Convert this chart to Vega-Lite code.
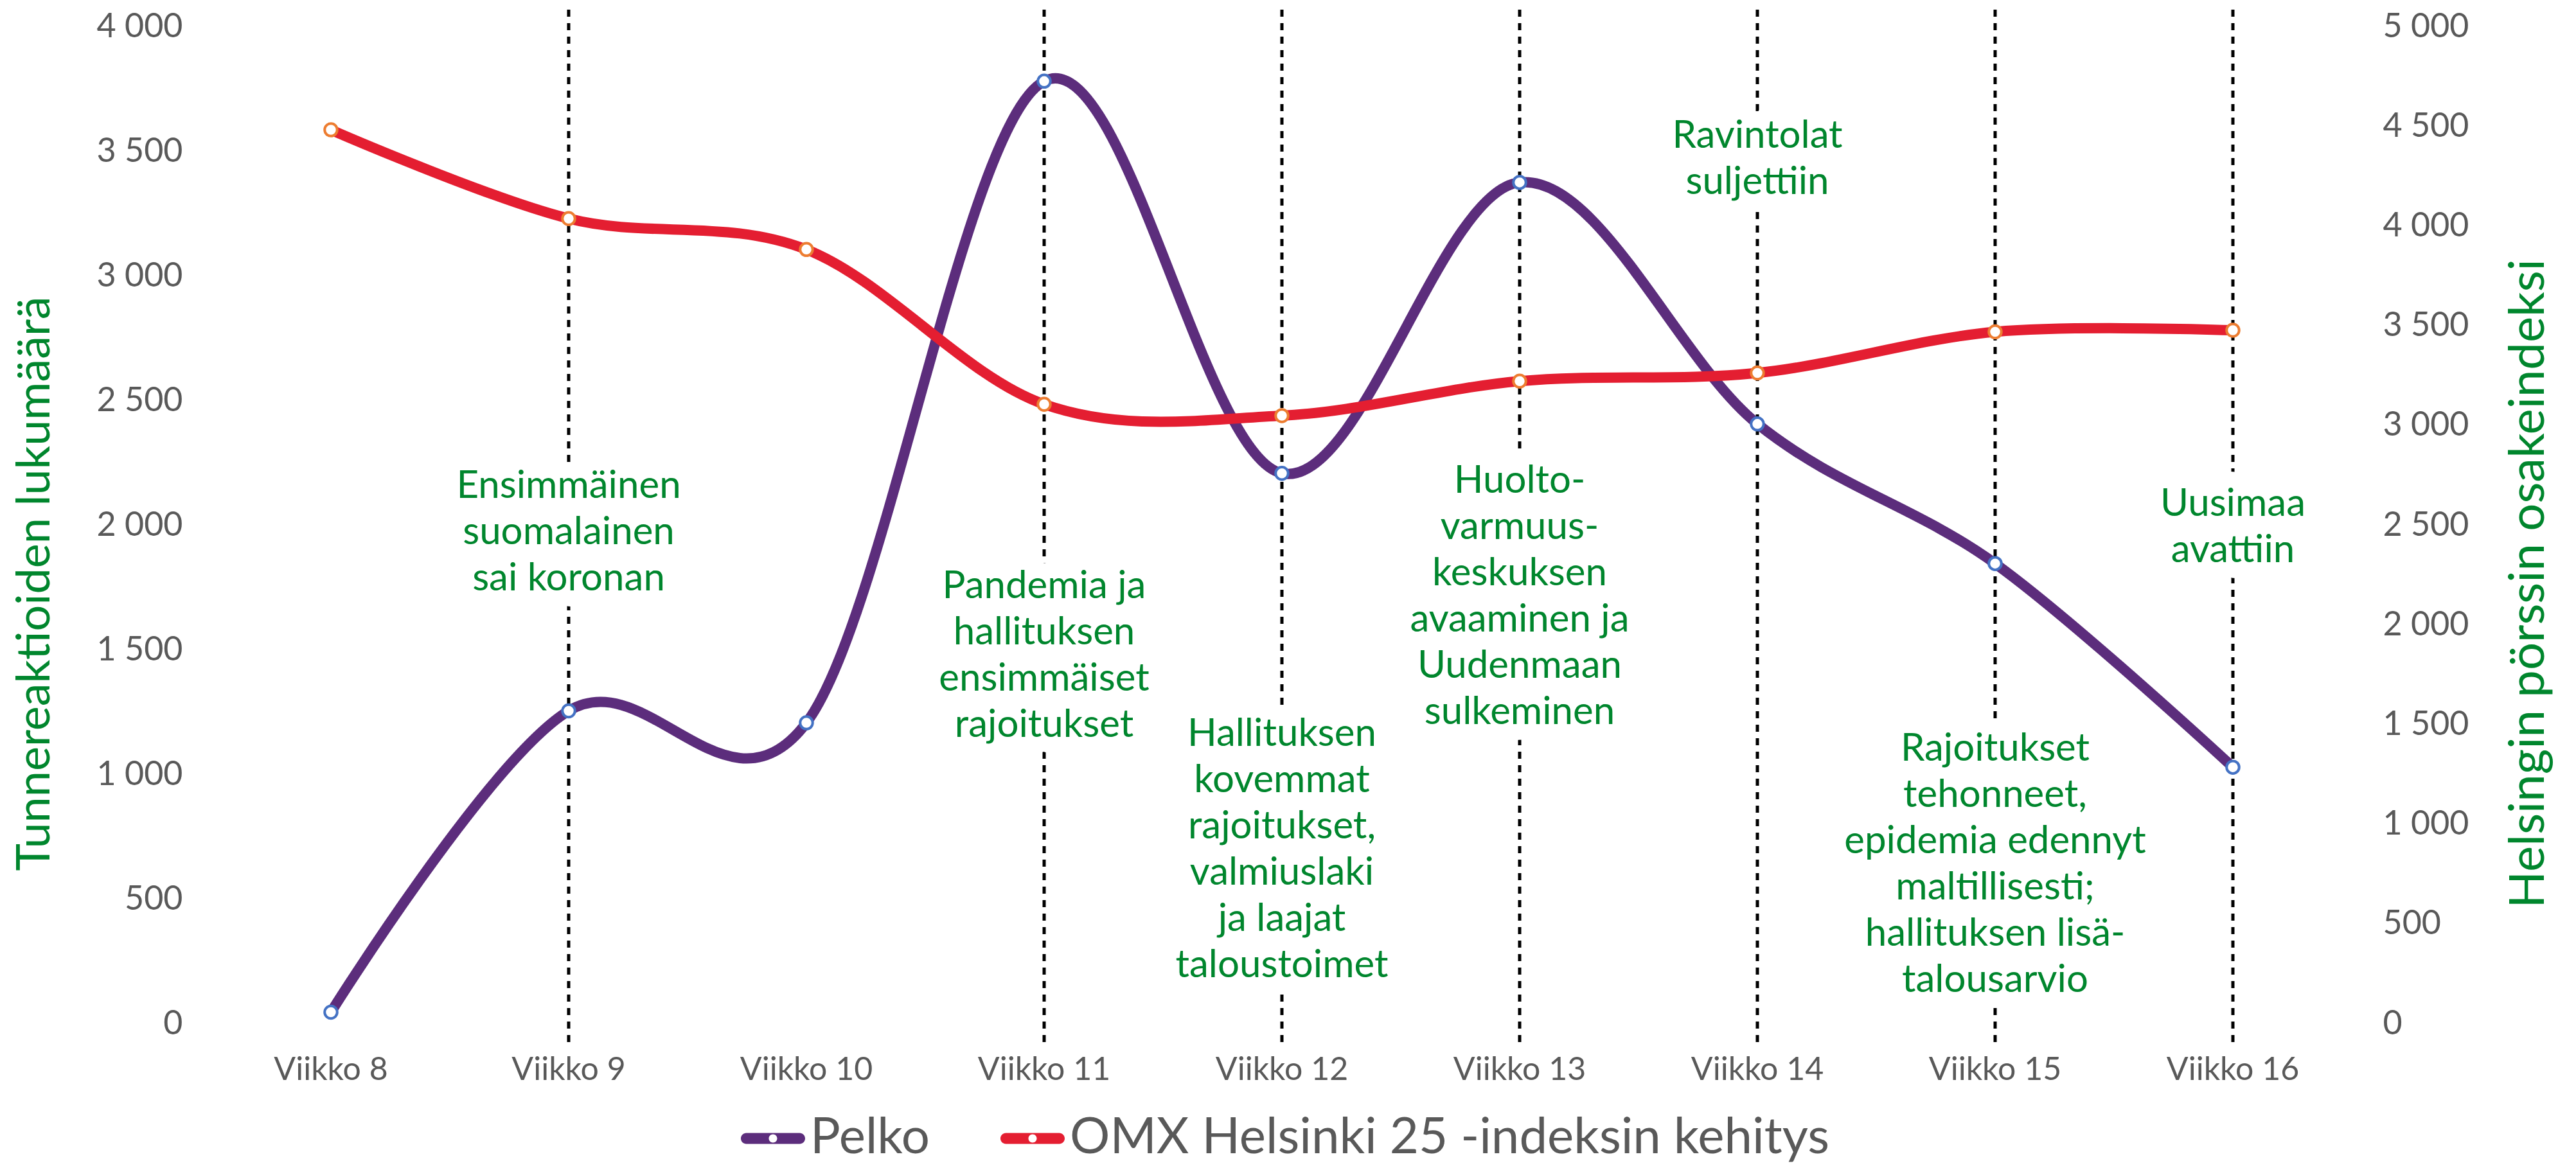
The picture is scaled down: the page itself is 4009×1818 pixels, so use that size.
{
  "$schema": "https://vega.github.io/schema/vega-lite/v6.json",
  "width": 3330,
  "height": 1552,
  "autosize": {"type": "none"},
  "padding": {"left": 330, "top": 41, "right": 349, "bottom": 225},
  "background": "white",
  "config": {
    "font": "Lato",
    "view": {"stroke": null},
    "axis": {"labelFont": "Lato", "titleFont": "Lato", "labelColor": "#595959", "domain": false, "ticks": false, "titleFontWeight": "normal", "labelLimit": 1000}
  },
  "datasets": {
    "pelko": [
      {"week": "Viikko 8", "series": "Pelko", "value": 45},
      {"week": "Viikko 9", "series": "Pelko", "value": 1254},
      {"week": "Viikko 10", "series": "Pelko", "value": 1206},
      {"week": "Viikko 11", "series": "Pelko", "value": 3780},
      {"week": "Viikko 12", "series": "Pelko", "value": 2207},
      {"week": "Viikko 13", "series": "Pelko", "value": 3374},
      {"week": "Viikko 14", "series": "Pelko", "value": 2405},
      {"week": "Viikko 15", "series": "Pelko", "value": 1845},
      {"week": "Viikko 16", "series": "Pelko", "value": 1028}
    ],
    "omx": [
      {"week": "Viikko 8", "series": "OMX Helsinki 25 -indeksin kehitys", "value": 4481},
      {"week": "Viikko 9", "series": "OMX Helsinki 25 -indeksin kehitys", "value": 4036},
      {"week": "Viikko 10", "series": "OMX Helsinki 25 -indeksin kehitys", "value": 3881},
      {"week": "Viikko 11", "series": "OMX Helsinki 25 -indeksin kehitys", "value": 3105},
      {"week": "Viikko 12", "series": "OMX Helsinki 25 -indeksin kehitys", "value": 3048},
      {"week": "Viikko 13", "series": "OMX Helsinki 25 -indeksin kehitys", "value": 3221},
      {"week": "Viikko 14", "series": "OMX Helsinki 25 -indeksin kehitys", "value": 3262},
      {"week": "Viikko 15", "series": "OMX Helsinki 25 -indeksin kehitys", "value": 3468},
      {"week": "Viikko 16", "series": "OMX Helsinki 25 -indeksin kehitys", "value": 3476}
    ],
    "notes": [
      {"week": "Viikko 9", "label": "Ensimmäinen\nsuomalainen\nsai koronan", "pos": 2155},
      {"week": "Viikko 11", "label": "Pandemia ja\nhallituksen\nensimmäiset\nrajoitukset", "pos": 1753},
      {"week": "Viikko 12", "label": "Hallituksen\nkovemmat\nrajoitukset,\nvalmiuslaki\nja laajat\ntaloustoimet", "pos": 1160},
      {"week": "Viikko 13", "label": "Huolto-\nvarmuus-\nkeskuksen\navaaminen ja\nUudenmaan\nsulkeminen", "pos": 2175},
      {"week": "Viikko 14", "label": "Ravintolat\nsuljettiin", "pos": 3559},
      {"week": "Viikko 15", "label": "Rajoitukset\ntehonneet,\nepidemia edennyt\nmaltillisesti;\nhallituksen lisä-\ntalousarvio", "pos": 1100},
      {"week": "Viikko 16", "label": "Uusimaa\navattiin", "pos": 2082}
    ]
  },
  "layer": [
    {
      "layer": [
        {
          "data": {"name": "notes"},
          "mark": {"type": "rule", "color": "black", "strokeWidth": 5, "strokeDash": [11, 10]},
          "encoding": {
            "x": {"field": "week", "type": "nominal", "scale": {"domain": ["Viikko 8", "Viikko 9", "Viikko 10", "Viikko 11", "Viikko 12", "Viikko 13", "Viikko 14", "Viikko 15", "Viikko 16"]}, "axis": {"title": null, "labelFontSize": 50, "labelPadding": 47, "labelAngle": 0, "grid": false}},
            "y": {"datum": 4067, "type": "quantitative", "scale": {"domain": [0, 4000], "nice": false}, "axis": {"title": "Tunnereaktioiden lukumäärä", "titleColor": "#00862D", "titleFontSize": 72, "titleX": -276, "titleY": 867, "titleBaseline": "middle", "titleAngle": 270, "values": [0, 500, 1000, 1500, 2000, 2500, 3000, 3500, 4000], "labelFontSize": 52, "labelPadding": 46, "gridColor": "#D9D9D9", "gridWidth": 3, "labelExpr": "replace(format(datum.value, ','), ',', ' ')"}},
            "y2": {"datum": -93}
          }
        },
        {
          "data": {"name": "notes"},
          "mark": {"type": "text", "align": "center", "baseline": "middle", "lineBreak": "\n", "fontSize": 60, "lineHeight": 72, "font": "Lato", "fill": "white", "stroke": "white", "strokeWidth": 50, "strokeJoin": "round"},
          "encoding": {
            "x": {"field": "week", "type": "nominal", "scale": {"domain": ["Viikko 8", "Viikko 9", "Viikko 10", "Viikko 11", "Viikko 12", "Viikko 13", "Viikko 14", "Viikko 15", "Viikko 16"]}, "axis": {"title": null, "labelFontSize": 50, "labelPadding": 47, "labelAngle": 0, "grid": false}},
            "y": {"field": "pos", "type": "quantitative", "scale": {"domain": [0, 4000], "nice": false}, "axis": {"title": "Tunnereaktioiden lukumäärä", "titleColor": "#00862D", "titleFontSize": 72, "titleX": -276, "titleY": 867, "titleBaseline": "middle", "titleAngle": 270, "values": [0, 500, 1000, 1500, 2000, 2500, 3000, 3500, 4000], "labelFontSize": 52, "labelPadding": 46, "gridColor": "#D9D9D9", "gridWidth": 3, "labelExpr": "replace(format(datum.value, ','), ',', ' ')"}},
            "text": {"field": "label", "type": "nominal"}
          }
        },
        {
          "data": {"name": "notes"},
          "mark": {"type": "text", "align": "center", "baseline": "middle", "lineBreak": "\n", "fontSize": 60, "lineHeight": 72, "font": "Lato", "fill": "#00862D"},
          "encoding": {
            "x": {"field": "week", "type": "nominal", "scale": {"domain": ["Viikko 8", "Viikko 9", "Viikko 10", "Viikko 11", "Viikko 12", "Viikko 13", "Viikko 14", "Viikko 15", "Viikko 16"]}, "axis": {"title": null, "labelFontSize": 50, "labelPadding": 47, "labelAngle": 0, "grid": false}},
            "y": {"field": "pos", "type": "quantitative", "scale": {"domain": [0, 4000], "nice": false}, "axis": {"title": "Tunnereaktioiden lukumäärä", "titleColor": "#00862D", "titleFontSize": 72, "titleX": -276, "titleY": 867, "titleBaseline": "middle", "titleAngle": 270, "values": [0, 500, 1000, 1500, 2000, 2500, 3000, 3500, 4000], "labelFontSize": 52, "labelPadding": 46, "gridColor": "#D9D9D9", "gridWidth": 3, "labelExpr": "replace(format(datum.value, ','), ',', ' ')"}},
            "text": {"field": "label", "type": "nominal"}
          }
        },
        {
          "data": {"name": "pelko"},
          "mark": {"type": "line", "interpolate": "cardinal", "strokeWidth": 16, "strokeCap": "round", "strokeJoin": "round"},
          "encoding": {
            "x": {"field": "week", "type": "nominal", "scale": {"domain": ["Viikko 8", "Viikko 9", "Viikko 10", "Viikko 11", "Viikko 12", "Viikko 13", "Viikko 14", "Viikko 15", "Viikko 16"]}, "axis": {"title": null, "labelFontSize": 50, "labelPadding": 47, "labelAngle": 0, "grid": false}},
            "y": {"field": "value", "type": "quantitative", "scale": {"domain": [0, 4000], "nice": false}, "axis": {"title": "Tunnereaktioiden lukumäärä", "titleColor": "#00862D", "titleFontSize": 72, "titleX": -276, "titleY": 867, "titleBaseline": "middle", "titleAngle": 270, "values": [0, 500, 1000, 1500, 2000, 2500, 3000, 3500, 4000], "labelFontSize": 52, "labelPadding": 46, "gridColor": "#D9D9D9", "gridWidth": 3, "labelExpr": "replace(format(datum.value, ','), ',', ' ')"}},
            "color": {
              "field": "series", "type": "nominal",
              "scale": {"domain": ["Pelko", "OMX Helsinki 25 -indeksin kehitys"], "range": ["#5C2D7C", "#E41E31"]},
              "legend": {
                "title": null, "orient": "none", "legendX": 823, "legendY": 1681, "direction": "horizontal",
                "symbolType": "M-0.83,-0.17L0.83,-0.17A0.17,0.17 0 0 1 0.83,0.17L-0.83,0.17A0.17,0.17 0 0 1 -0.83,-0.17Z M0.13,0A0.13,0.13 0 1 0 -0.13,0A0.13,0.13 0 1 0 0.13,0Z",
                "symbolSize": 10000, "symbolStrokeWidth": 0,
                "labelFontSize": 78, "labelColor": "#595959", "labelFont": "Lato", "labelOffset": 8, "columnPadding": 110, "padding": 0, "labelLimit": 2000,
                "encode": {"symbols": {"update": {"fill": {"scale": "color", "field": "value"}, "strokeWidth": {"value": 0}}}}
              }
            }
          }
        },
        {
          "data": {"name": "pelko"},
          "mark": {"type": "point", "shape": "circle", "filled": true, "fill": "white", "stroke": "#4472C4", "strokeWidth": 4, "size": 380, "opacity": 1},
          "encoding": {
            "x": {"field": "week", "type": "nominal", "scale": {"domain": ["Viikko 8", "Viikko 9", "Viikko 10", "Viikko 11", "Viikko 12", "Viikko 13", "Viikko 14", "Viikko 15", "Viikko 16"]}, "axis": {"title": null, "labelFontSize": 50, "labelPadding": 47, "labelAngle": 0, "grid": false}},
            "y": {"field": "value", "type": "quantitative", "scale": {"domain": [0, 4000], "nice": false}, "axis": {"title": "Tunnereaktioiden lukumäärä", "titleColor": "#00862D", "titleFontSize": 72, "titleX": -276, "titleY": 867, "titleBaseline": "middle", "titleAngle": 270, "values": [0, 500, 1000, 1500, 2000, 2500, 3000, 3500, 4000], "labelFontSize": 52, "labelPadding": 46, "gridColor": "#D9D9D9", "gridWidth": 3, "labelExpr": "replace(format(datum.value, ','), ',', ' ')"}}
          }
        }
      ]
    },
    {
      "layer": [
        {
          "data": {"name": "omx"},
          "mark": {"type": "line", "interpolate": "cardinal", "strokeWidth": 16, "strokeCap": "round", "strokeJoin": "round"},
          "encoding": {
            "x": {"field": "week", "type": "nominal", "scale": {"domain": ["Viikko 8", "Viikko 9", "Viikko 10", "Viikko 11", "Viikko 12", "Viikko 13", "Viikko 14", "Viikko 15", "Viikko 16"]}, "axis": {"title": null, "labelFontSize": 50, "labelPadding": 47, "labelAngle": 0, "grid": false}},
            "y": {"field": "value", "type": "quantitative", "scale": {"domain": [0, 5000], "nice": false}, "axis": {"orient": "right", "title": "Helsingin pörssin osakeindeksi", "titleColor": "#00862D", "titleFontSize": 76, "titleX": 275, "titleY": 867, "titleBaseline": "middle", "titleAngle": 270, "values": [0, 500, 1000, 1500, 2000, 2500, 3000, 3500, 4000, 4500, 5000], "labelFontSize": 52, "labelPadding": 48, "grid": false, "labelExpr": "replace(format(datum.value, ','), ',', ' ')"}},
            "color": {"field": "series", "type": "nominal", "scale": {"domain": ["Pelko", "OMX Helsinki 25 -indeksin kehitys"], "range": ["#5C2D7C", "#E41E31"]}}
          }
        },
        {
          "data": {"name": "omx"},
          "mark": {"type": "point", "shape": "circle", "filled": true, "fill": "white", "stroke": "#ED7D31", "strokeWidth": 4, "size": 380, "opacity": 1},
          "encoding": {
            "x": {"field": "week", "type": "nominal", "scale": {"domain": ["Viikko 8", "Viikko 9", "Viikko 10", "Viikko 11", "Viikko 12", "Viikko 13", "Viikko 14", "Viikko 15", "Viikko 16"]}, "axis": {"title": null, "labelFontSize": 50, "labelPadding": 47, "labelAngle": 0, "grid": false}},
            "y": {"field": "value", "type": "quantitative", "scale": {"domain": [0, 5000], "nice": false}, "axis": {"orient": "right", "title": "Helsingin pörssin osakeindeksi", "titleColor": "#00862D", "titleFontSize": 76, "titleX": 275, "titleY": 867, "titleBaseline": "middle", "titleAngle": 270, "values": [0, 500, 1000, 1500, 2000, 2500, 3000, 3500, 4000, 4500, 5000], "labelFontSize": 52, "labelPadding": 48, "grid": false, "labelExpr": "replace(format(datum.value, ','), ',', ' ')"}}
          }
        }
      ]
    }
  ],
  "resolve": {"scale": {"y": "independent"}}
}
